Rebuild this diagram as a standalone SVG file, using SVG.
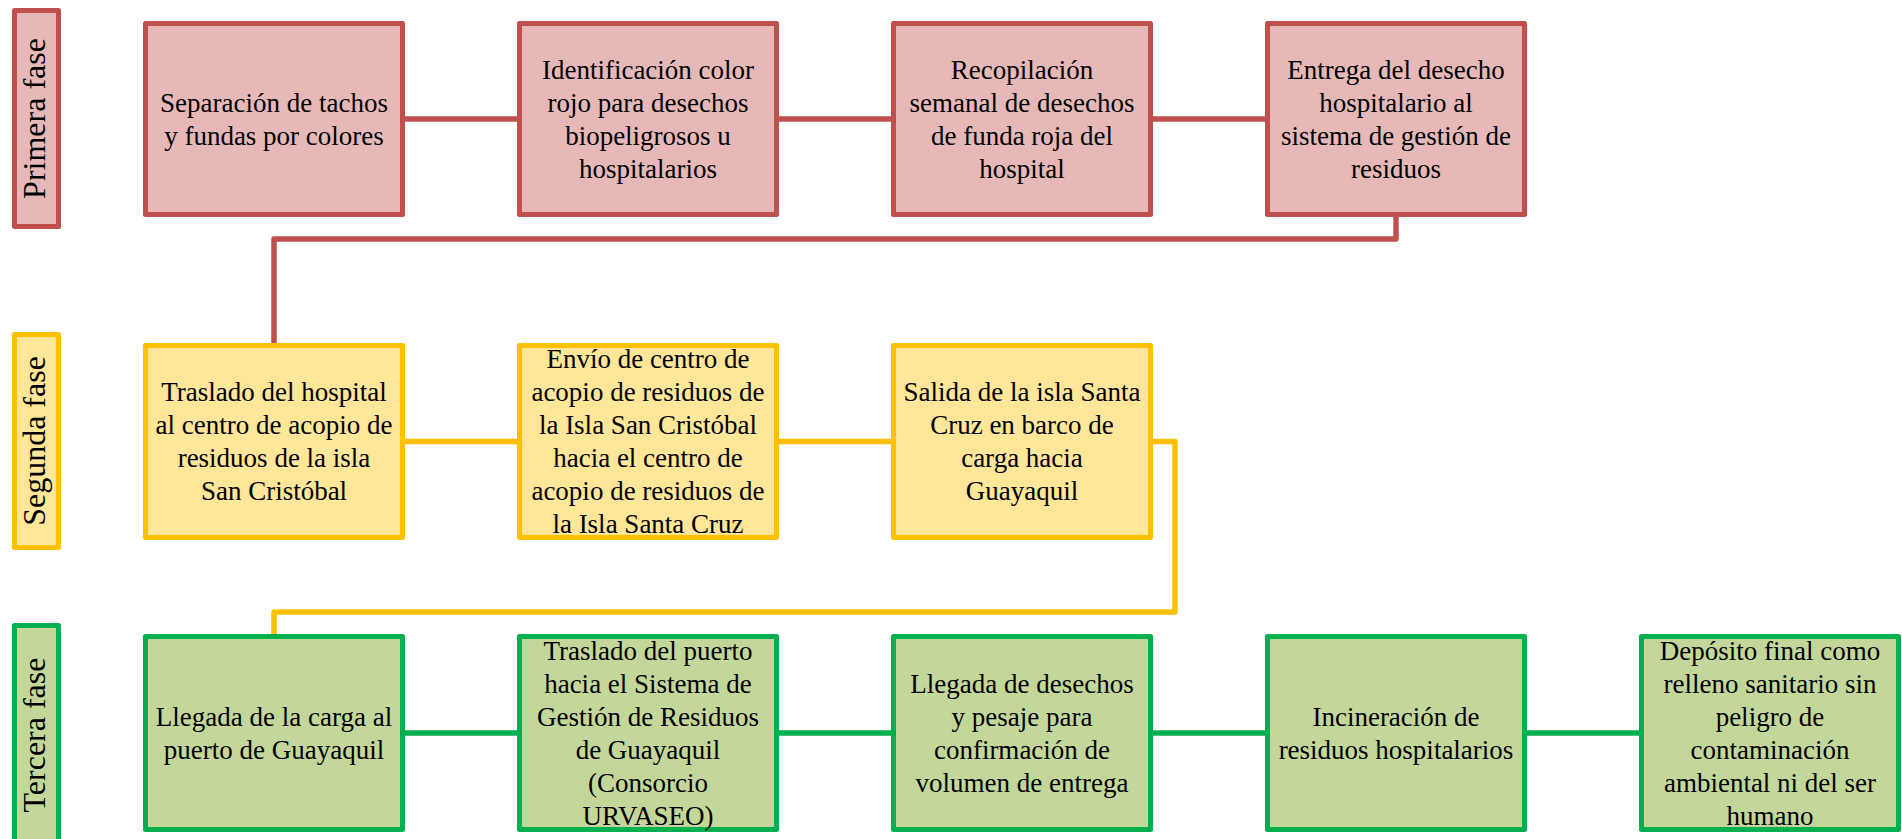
<svg xmlns="http://www.w3.org/2000/svg" width="1902" height="839" viewBox="0 0 1902 839">
<style>
  text { font-family: "Liberation Serif", "Times New Roman", serif; fill: #000; }
  .t { font-size: 27px; text-anchor: middle; }
  .lbl { font-size: 32px; text-anchor: middle; }
  .r { fill: #E6B9B8; stroke: #C0504D; stroke-width: 5; stroke-linejoin: round; }
  .y { fill: #FFE699; stroke: #FFC000; stroke-width: 5; stroke-linejoin: round; }
  .g { fill: #C4D79B; stroke: #00B050; stroke-width: 5; stroke-linejoin: round; }
  .cr { fill: none; stroke: #C0504D; stroke-width: 5.5; stroke-linejoin: round; }
  .cy { fill: none; stroke: #FFC000; stroke-width: 5.5; stroke-linejoin: round; }
  .cg { fill: none; stroke: #00B050; stroke-width: 5.5; stroke-linejoin: round; }
</style>
<rect width="1902" height="839" fill="#fff"/>
<g id="connectors">
  <path class="cr" d="M405 119 H517 M779 119 H891 M1153 119 H1265"/>
  <path class="cr" d="M1396 217 V239 H274 V343"/>
  <path class="cy" d="M405 441.5 H517 M779 441.5 H891"/>
  <path class="cy" d="M1153 441.5 H1175 V612 H274 V634"/>
  <path class="cg" d="M405 733 H517 M779 733 H891 M1153 733 H1265 M1527 733 H1639"/>
</g>
<g id="label-primera">
  <rect class="r" x="14.5" y="10.5" width="44" height="216"/>
  <text class="lbl" transform="translate(45 118.5) rotate(-90)">Primera fase</text>
</g>
<g id="label-segunda">
  <rect class="y" x="14.5" y="334.5" width="44" height="213"/>
  <text class="lbl" transform="translate(45 441) rotate(-90)">Segunda fase</text>
</g>
<g id="label-tercera">
  <rect class="g" x="14.5" y="625.5" width="44" height="220"/>
  <text class="lbl" transform="translate(45 735) rotate(-90)">Tercera fase</text>
</g>
<g id="n1">
  <rect class="r" x="145.5" y="23.5" width="257" height="191"/>
  <text class="t"><tspan x="274" y="111.5">Separación de tachos</tspan><tspan x="274" y="144.5">y fundas por colores</tspan></text>
</g>
<g id="n2">
  <rect class="r" x="519.5" y="23.5" width="257" height="191"/>
  <text class="t"><tspan x="648" y="78.5">Identificación color</tspan><tspan x="648" y="111.5">rojo para desechos</tspan><tspan x="648" y="144.5">biopeligrosos u</tspan><tspan x="648" y="177.5">hospitalarios</tspan></text>
</g>
<g id="n3">
  <rect class="r" x="893.5" y="23.5" width="257" height="191"/>
  <text class="t"><tspan x="1022" y="78.5">Recopilación</tspan><tspan x="1022" y="111.5">semanal de desechos</tspan><tspan x="1022" y="144.5">de funda roja del</tspan><tspan x="1022" y="177.5">hospital</tspan></text>
</g>
<g id="n4">
  <rect class="r" x="1267.5" y="23.5" width="257" height="191"/>
  <text class="t"><tspan x="1396" y="78.5">Entrega del desecho</tspan><tspan x="1396" y="111.5">hospitalario al</tspan><tspan x="1396" y="144.5">sistema de gestión de</tspan><tspan x="1396" y="177.5">residuos</tspan></text>
</g>
<g id="n5">
  <rect class="y" x="145.5" y="345.5" width="257" height="192"/>
  <text class="t"><tspan x="274" y="401">Traslado del hospital</tspan><tspan x="274" y="434">al centro de acopio de</tspan><tspan x="274" y="467">residuos de la isla</tspan><tspan x="274" y="500">San Cristóbal</tspan></text>
</g>
<g id="n6">
  <rect class="y" x="519.5" y="345.5" width="257" height="192"/>
  <text class="t"><tspan x="648" y="368">Envío de centro de</tspan><tspan x="648" y="401">acopio de residuos de</tspan><tspan x="648" y="434">la Isla San Cristóbal</tspan><tspan x="648" y="467">hacia el centro de</tspan><tspan x="648" y="500">acopio de residuos de</tspan><tspan x="648" y="533">la Isla Santa Cruz</tspan></text>
</g>
<g id="n7">
  <rect class="y" x="893.5" y="345.5" width="257" height="192"/>
  <text class="t"><tspan x="1022" y="401">Salida de la isla Santa</tspan><tspan x="1022" y="434">Cruz en barco de</tspan><tspan x="1022" y="467">carga hacia</tspan><tspan x="1022" y="500">Guayaquil</tspan></text>
</g>
<g id="n8">
  <rect class="g" x="145.5" y="636.5" width="257" height="193"/>
  <text class="t"><tspan x="274" y="725.5">Llegada de la carga al</tspan><tspan x="274" y="758.5">puerto de Guayaquil</tspan></text>
</g>
<g id="n9">
  <rect class="g" x="519.5" y="636.5" width="257" height="193"/>
  <text class="t"><tspan x="648" y="659.5">Traslado del puerto</tspan><tspan x="648" y="692.5">hacia el Sistema de</tspan><tspan x="648" y="725.5">Gestión de Residuos</tspan><tspan x="648" y="758.5">de Guayaquil</tspan><tspan x="648" y="791.5">(Consorcio</tspan><tspan x="648" y="824.5">URVASEO)</tspan></text>
</g>
<g id="n10">
  <rect class="g" x="893.5" y="636.5" width="257" height="193"/>
  <text class="t"><tspan x="1022" y="692.5">Llegada de desechos</tspan><tspan x="1022" y="725.5">y pesaje para</tspan><tspan x="1022" y="758.5">confirmación de</tspan><tspan x="1022" y="791.5">volumen de entrega</tspan></text>
</g>
<g id="n11">
  <rect class="g" x="1267.5" y="636.5" width="257" height="193"/>
  <text class="t"><tspan x="1396" y="725.5">Incineración de</tspan><tspan x="1396" y="758.5">residuos hospitalarios</tspan></text>
</g>
<g id="n12">
  <rect class="g" x="1641.5" y="636.5" width="257" height="193"/>
  <text class="t"><tspan x="1770" y="659.5">Depósito final como</tspan><tspan x="1770" y="692.5">relleno sanitario sin</tspan><tspan x="1770" y="725.5">peligro de</tspan><tspan x="1770" y="758.5">contaminación</tspan><tspan x="1770" y="791.5">ambiental ni del ser</tspan><tspan x="1770" y="824.5">humano</tspan></text>
</g>
</svg>
